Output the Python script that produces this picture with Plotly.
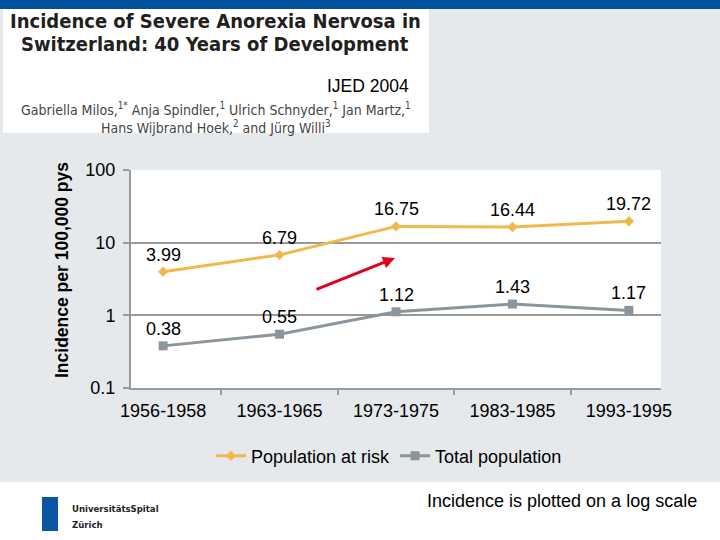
import math
import plotly.graph_objects as go

periods = ["1956-1958", "1963-1965", "1973-1975", "1983-1985", "1993-1995"]
pop_at_risk = [3.99, 6.79, 16.75, 16.44, 19.72]
total_pop = [0.38, 0.55, 1.12, 1.43, 1.17]
pop_labels = ["3.99", "6.79", "16.75", "16.44", "19.72"]
total_labels = ["0.38", "0.55", "1.12", "1.43", "1.17"]
y_ticks = [0.1, 1, 10, 100]
y_tick_text = ["0.1", "1", "10", "100"]

W, H = 720, 540
def px(x):
    return x / W
def py(y):
    return 1 - y / H

ORANGE = "#F1B94C"
GRAY = "#8B959C"
FONT = "Liberation Sans"
HFONT = "DejaVu Sans Condensed, DejaVu Sans"

fig = go.Figure()
fig.add_trace(go.Scatter(
    x=periods, y=pop_at_risk, name="Population at risk", mode="lines+markers",
    line=dict(color=ORANGE, width=3), marker=dict(symbol="diamond", size=8, color=ORANGE)))
fig.add_trace(go.Scatter(
    x=periods, y=total_pop, name="Total population", mode="lines+markers",
    line=dict(color=GRAY, width=3), marker=dict(symbol="square", size=9, color=GRAY)))

annotations = []
for p, v, t in zip(periods, pop_at_risk, pop_labels):
    annotations.append(dict(x=p, y=math.log10(v), xref="x", yref="y", text=t, showarrow=False,
                            yshift=17, font=dict(size=18, color="black", family=FONT)))
for p, v, t in zip(periods, total_pop, total_labels):
    annotations.append(dict(x=p, y=math.log10(v), xref="x", yref="y", text=t, showarrow=False,
                            yshift=17, font=dict(size=18, color="black", family=FONT)))

def pa(x, y, text, size, family=FONT, color="black", xanchor="center", **kw):
    return dict(x=px(x), y=py(y), xref="paper", yref="paper", text=text, showarrow=False,
                xanchor=xanchor, yanchor="middle", font=dict(size=size, color=color, family=family), **kw)

# red arrow
annotations.append(dict(x=px(395), y=py(258), xref="paper", yref="paper", ax=-80, ay=32,
                        axref="pixel", ayref="pixel", showarrow=True, arrowhead=2, arrowsize=0.8,
                        arrowwidth=3, arrowcolor="#E2001A", text=""))

# y axis title
annotations.append(pa(62, 270, "<b>Incidence per 100,000 pys</b>", 17.5, textangle=-90))

# header paper snippet
annotations.append(pa(215, 21, "<b>Incidence of Severe Anorexia Nervosa in</b>", 20, family=HFONT, color="#231F20"))
annotations.append(pa(19, 44, "<b>Switzerland: 40 Years of Development</b>", 20, family=HFONT, color="#231F20", xanchor="left"))
annotations.append(pa(411, 86, "IJED 2004", 17.5, xanchor="right"))
annotations.append(pa(216, 118,
                      "Gabriella Milos,<sup>1*</sup> Anja Spindler,<sup>1</sup> Ulrich Schnyder,<sup>1</sup> Jan Martz,<sup>1</sup>"
                      "<br>Hans Wijbrand Hoek,<sup>2</sup> and Jürg Willi<sup>3</sup>",
                      14, family=HFONT, color="#444", align="center"))

# footer
annotations.append(pa(699, 501, "Incidence is plotted on a log scale", 18, xanchor="right"))
annotations.append(pa(70, 508, "<b>UniversitätsSpital</b>", 9.5, family="Liberation Sans Narrow, " + HFONT, color="#222", xanchor="left"))
annotations.append(pa(70, 524, "<b>Zürich</b>", 9.5, family="Liberation Sans Narrow, " + HFONT, color="#222", xanchor="left"))

shapes = [
    dict(type="rect", xref="paper", yref="paper", x0=0, x1=1, y0=py(9), y1=1,
         fillcolor="#00529C", line=dict(width=0), layer="below"),
    dict(type="rect", xref="paper", yref="paper", x0=px(3), x1=px(429), y0=py(133), y1=py(9),
         fillcolor="white", line=dict(width=0), layer="below"),
    dict(type="rect", xref="paper", yref="paper", x0=0, x1=1, y0=0, y1=py(482),
         fillcolor="white", line=dict(width=0), layer="below"),
    dict(type="rect", xref="paper", yref="paper", x0=px(42), x1=px(58), y0=py(531), y1=py(497),
         fillcolor="#0A56A0", line=dict(width=0), layer="below"),
]

fig.update_layout(
    width=W, height=H,
    margin=dict(l=0, r=0, t=0, b=0, pad=0, autoexpand=False),
    paper_bgcolor="#E5E9EC",
    plot_bgcolor="white",
    font=dict(family=FONT, size=18, color="black"),
    showlegend=True,
    legend=dict(orientation="h", x=px(389), xanchor="center", y=py(456), yanchor="middle",
                bgcolor="rgba(0,0,0,0)", font=dict(size=18, family=FONT), itemwidth=30,
                traceorder="normal"),
    xaxis=dict(domain=[px(131), px(661)], type="category", tickson="boundaries",
               ticks="outside", ticklen=5, tickwidth=2, tickcolor="#9A9A9A",
               showline=True, linecolor="#9A9A9A", linewidth=2, showgrid=False,
               ticklabelstandoff=5, automargin=False,
               tickfont=dict(size=18, family=FONT), zeroline=False),
    yaxis=dict(domain=[py(388), py(170)], type="log", range=[-1, 2],
               tickvals=y_ticks, ticktext=y_tick_text, ticks="outside", ticklen=6,
               tickwidth=2, tickcolor="#9A9A9A", showline=True, linecolor="#9A9A9A", linewidth=2,
               showgrid=True, gridcolor="#9A9A9A", gridwidth=2, ticklabelstandoff=4, automargin=False,
               tickfont=dict(size=18, family=FONT), zeroline=False),
    annotations=annotations,
    shapes=shapes,
)

fig.write_html("out.html")
